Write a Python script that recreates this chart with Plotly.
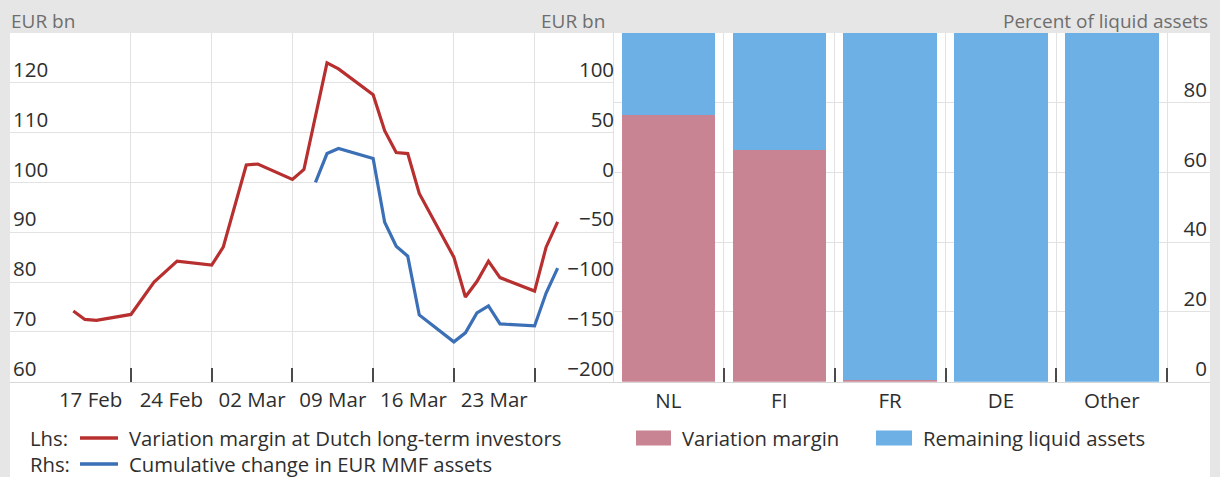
import plotly.graph_objects as go

# ---- Left panel: daily series (2020) ----
vm_dates = ["2020-02-19", "2020-02-20", "2020-02-21", "2020-02-24", "2020-02-26",
            "2020-02-28", "2020-03-02", "2020-03-03", "2020-03-05", "2020-03-06",
            "2020-03-09", "2020-03-10", "2020-03-12", "2020-03-13", "2020-03-16",
            "2020-03-17", "2020-03-18", "2020-03-19", "2020-03-20", "2020-03-23",
            "2020-03-24", "2020-03-25", "2020-03-26", "2020-03-27", "2020-03-30",
            "2020-03-31", "2020-04-01"]
vm_values = [74.2, 72.5, 72.3, 73.5, 80.0, 84.2, 83.4, 87.0, 103.5, 103.7,
             100.6, 102.6, 124.0, 122.8, 117.6, 110.4, 106.0, 105.8, 97.8, 85.0,
             77.0, 80.1, 84.2, 80.9, 78.2, 87.0, 92.1]

mmf_dates = ["2020-03-11", "2020-03-12", "2020-03-13", "2020-03-16", "2020-03-17",
             "2020-03-18", "2020-03-19", "2020-03-20", "2020-03-23", "2020-03-24",
             "2020-03-25", "2020-03-26", "2020-03-27", "2020-03-30", "2020-03-31",
             "2020-04-01"]
mmf_values = [0, 29, 34, 24, -40, -64, -74, -133, -160, -151, -131, -124, -142,
              -144, -111, -86]

# week boundaries (tick marks / gridlines) and week labels (centred in each week)
week_starts = ["2020-02-24", "2020-03-02", "2020-03-09", "2020-03-16",
               "2020-03-23", "2020-03-30"]
week_label_pos = ["2020-02-20 12:00", "2020-02-27 12:00", "2020-03-05 12:00",
                  "2020-03-12 12:00", "2020-03-19 12:00", "2020-03-26 12:00"]
week_labels = ["17 Feb", "24 Feb", "02 Mar", "09 Mar", "16 Mar", "23 Mar"]
date_range = ["2020-02-13 12:15", "2020-04-05 19:12"]

lhs_ticks = [60, 70, 80, 90, 100, 110, 120]
rhs_ticks = [-200, -150, -100, -50, 0, 50, 100]

# ---- Right panel: share of liquid assets ----
countries = ["NL", "FI", "FR", "DE", "Other"]
margin_share = [76.5, 66.5, 0.6, 0.0, 0.0]
remaining_share = [23.5, 33.5, 99.4, 100.0, 100.0]
pct_ticks = [0, 20, 40, 60, 80]

# ---- styling ----
W, H = 1220, 477
FONT = "Open Sans"
RED = "#b7302f"
BLUE = "#3b6fb6"
PINK = "#c98493"
LIGHTBLUE = "#6cb0e6"
GRID = "#e2e2e2"
TICKC = "#4a4a4a"
TEXT = "#2e2e2e"
HEAD = "#6e6e6e"
BG = "#e6e6e6"


def fx(px):
    return px / W


def fy(py):
    return 1 - py / H


plot_top, plot_bottom = 33, 381.7
ydom = [fy(plot_bottom), fy(plot_top)]
left_dom = [fx(10), fx(613)]
right_dom = [fx(613), fx(1210)]

tickfont = dict(family=FONT, size=20.5, color=TEXT)
inside_y = dict(ticklabelposition="inside", ticklabelshift=-13,
                ticklabeloverflow="allow", ticks="", zeroline=False,
                tickfont=tickfont, tickmode="array")

fig = go.Figure()

fig.add_trace(go.Scatter(x=vm_dates, y=vm_values, mode="lines",
                         line=dict(color=RED, width=3.2),
                         name="Variation margin at Dutch long-term investors",
                         xaxis="x", yaxis="y", showlegend=False))
fig.add_trace(go.Scatter(x=mmf_dates, y=mmf_values, mode="lines",
                         line=dict(color=BLUE, width=3.2),
                         name="Cumulative change in EUR MMF assets",
                         xaxis="x", yaxis="y2", showlegend=False))
# carrier for the week-label axis
fig.add_trace(go.Scatter(x=date_range, y=[None, None], mode="lines",
                         xaxis="x3", yaxis="y", showlegend=False,
                         hoverinfo="skip"))

fig.add_trace(go.Bar(x=countries, y=margin_share, name="Variation margin",
                     marker=dict(color=PINK, line=dict(width=0)),
                     xaxis="x2", yaxis="y3", showlegend=False))
fig.add_trace(go.Bar(x=countries, y=remaining_share,
                     name="Remaining liquid assets",
                     marker=dict(color=LIGHTBLUE, line=dict(width=0)),
                     xaxis="x2", yaxis="y3", showlegend=False))

fig.update_layout(
    width=W, height=H,
    margin=dict(l=0, r=0, t=0, b=0),
    paper_bgcolor=BG,
    plot_bgcolor="rgba(0,0,0,0)",
    barmode="stack",
    bargap=0.157,
    showlegend=False,
    font=dict(family=FONT, color=TEXT),
    xaxis=dict(domain=left_dom, anchor="y", type="date", range=date_range,
               tickmode="array", tickvals=week_starts, showticklabels=False,
               ticks="inside", ticklen=14, tickwidth=1.5, tickcolor=TICKC,
               showgrid=True, gridcolor=GRID, gridwidth=1,
               showline=True, linecolor="#d6d6d6", linewidth=1,
               zeroline=False),
    xaxis3=dict(overlaying="x", anchor="y", side="bottom", type="date",
                range=date_range, tickmode="array", tickvals=week_label_pos,
                ticktext=week_labels, ticks="", showgrid=False,
                showline=False, zeroline=False, tickfont=tickfont,
                ticklabelstandoff=4),
    yaxis=dict(domain=ydom, anchor="x", range=[60, 130], tickvals=lhs_ticks,
               showgrid=True, gridcolor=GRID, **inside_y),
    yaxis2=dict(overlaying="y", anchor="x", side="right", range=[-200, 150],
                tickvals=rhs_ticks, showgrid=False, showline=True,
                linecolor=GRID, linewidth=1, **inside_y),
    xaxis2=dict(domain=right_dom, anchor="y3", type="category",
                categoryorder="array", categoryarray=countries,
                range=[-0.5, 4.886], tickson="boundaries", ticks="inside",
                ticklen=14, tickwidth=1.5, tickcolor=TICKC,
                showgrid=True, gridcolor=GRID, showline=True,
                linecolor="#d6d6d6", zeroline=False, tickfont=tickfont,
                ticklabelstandoff=1),
    yaxis3=dict(domain=ydom, anchor="x2", side="right", range=[0, 100],
                tickvals=pct_ticks, showgrid=True, gridcolor=GRID, **inside_y),
)

# white chart panel below the grey header strip
shapes = [dict(type="rect", xref="paper", yref="paper", x0=fx(10), x1=fx(1210),
               y0=0, y1=fy(plot_top), fillcolor="white", line=dict(width=0),
               layer="below")]

# legend keys
shapes += [
    dict(type="line", xref="paper", yref="paper", x0=fx(80), x1=fx(118),
         y0=fy(438), y1=fy(438), line=dict(color=RED, width=3.5)),
    dict(type="line", xref="paper", yref="paper", x0=fx(80), x1=fx(118),
         y0=fy(464), y1=fy(464), line=dict(color=BLUE, width=3.5)),
    dict(type="rect", xref="paper", yref="paper", x0=fx(636), x1=fx(671),
         y0=fy(445.5), y1=fy(430.5), fillcolor=PINK, line=dict(width=0)),
    dict(type="rect", xref="paper", yref="paper", x0=fx(876), x1=fx(912),
         y0=fy(445.5), y1=fy(430.5), fillcolor=LIGHTBLUE, line=dict(width=0)),
]
fig.update_layout(shapes=shapes)


def label(text, x, y, anchor="left", color=TEXT, size=20.3):
    fig.add_annotation(text=text, xref="paper", yref="paper", x=fx(x), y=fy(y),
                       xanchor=anchor, yanchor="middle", showarrow=False,
                       font=dict(family=FONT, size=size, color=color))


# unit headers
label("EUR bn", 9, 21, "left", HEAD, 19)
label("EUR bn", 607, 21, "right", HEAD, 19)
label("Percent of liquid assets", 1210, 21, "right", HEAD, 19)

# legend texts
label("Lhs:", 28, 438)
label("Variation margin at Dutch long-term investors", 127, 438)
label("Rhs:", 28, 464)
label("Cumulative change in EUR MMF assets", 127, 464)
label("Variation margin", 680, 438)
label("Remaining liquid assets", 921, 438)

fig.write_html("out.html")
